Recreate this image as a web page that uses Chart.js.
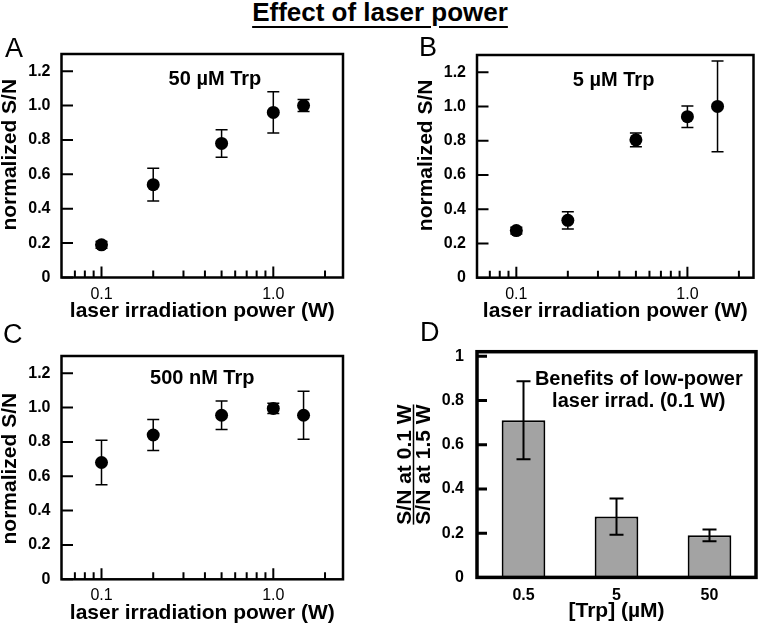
<!DOCTYPE html>
<html>
<head>
<meta charset="utf-8">
<script src="https://cdn.jsdelivr.net/npm/chart.js@4.4.0/dist/chart.umd.min.js"></script>
<style>
  body { margin: 0; background: #fff; }
  #wrap { position: relative; width: 760px; height: 626px; overflow: hidden;
          font-family: "Liberation Sans", Arial, sans-serif; color: #000; }
  canvas { position: absolute; }
  .title { position: absolute; left: 0; top: -1.5px; width: 760px; text-align: center;
           font-weight: bold; font-size: 26px; line-height: 26px;
           text-decoration: underline; text-decoration-thickness: 2px; text-underline-offset: 5px; }
  .tag { position: absolute; font-size: 27px; line-height: 27px; }
</style>
</head>
<body>
<div id="wrap">
  <canvas id="chartA" width="380" height="300" style="left:0;top:30px;width:380px;height:300px"></canvas>
  <canvas id="chartB" width="380" height="300" style="left:380px;top:30px;width:380px;height:300px"></canvas>
  <canvas id="chartC" width="380" height="306" style="left:0;top:320px;width:380px;height:306px"></canvas>
  <canvas id="chartD" width="380" height="306" style="left:380px;top:320px;width:380px;height:306px"></canvas>
  <div class="title">Effect of laser power</div>
  <div class="tag" style="left:5px;top:35px">A</div>
  <div class="tag" style="left:419px;top:34px">B</div>
  <div class="tag" style="left:3px;top:320.5px">C</div>
  <div class="tag" style="left:420px;top:318.5px">D</div>
</div>
<script>
// data
const powers = [0.1, 0.2, 0.5, 1.0, 1.5];
const snA = [0.19, 0.54, 0.78, 0.96, 1.00];
const errA = [0.02, 0.095, 0.08, 0.12, 0.035];
const snB = [0.275, 0.335, 0.805, 0.94, 1.00];
const errB = [0.02, 0.05, 0.04, 0.063, 0.265];
const snC = [0.68, 0.84, 0.955, 0.995, 0.955];
const errC = [0.13, 0.09, 0.083, 0.03, 0.14];
const trpLabels = ['0.5', '5', '50'];
const ratioD = [0.71, 0.275, 0.19];
const errD = [0.176, 0.082, 0.027];

// ticks
const snTicks = [0, 0.2, 0.4, 0.6, 0.8, 1.0, 1.2];
const ratioTicks = [0, 0.2, 0.4, 0.6, 0.8, 1];
const powerTicks = [0.07, 0.08, 0.09, 0.1, 0.2, 0.3, 0.4, 0.5, 0.6, 0.7, 0.8, 0.9, 1, 2];
const majorPowers = [0.1, 1];

const FONT = '"Liberation Sans", Arial, sans-serif';
Chart.defaults.font.family = FONT;
Chart.defaults.color = '#000';

function fixBox(s, dim, size) {
  s[dim] = size;
  s.paddingTop = 0; s.paddingBottom = 0; s.paddingLeft = 0; s.paddingRight = 0;
}

// error bars, inward ticks, frame, y titles and in-plot notes
const framePlugin = {
  id: 'frame',
  afterDatasetsDraw(chart, args, o) {
    const { ctx, chartArea: a } = chart;
    const x = chart.scales.x, y = chart.scales.y;
    ctx.save();
    ctx.strokeStyle = '#000';
    ctx.fillStyle = '#000';

    ctx.lineWidth = o.errWidth;
    chart.data.datasets.forEach((ds, di) => {
      chart.getDatasetMeta(di).data.forEach((el, i) => {
        const d = ds.data[i];
        const v = typeof d === 'object' ? d.y : d;
        const hi = y.getPixelForValue(v + ds.err[i]);
        const lo = y.getPixelForValue(v - ds.err[i]);
        ctx.beginPath();
        ctx.moveTo(el.x, hi); ctx.lineTo(el.x, lo);
        ctx.moveTo(el.x - o.cap, hi); ctx.lineTo(el.x + o.cap, hi);
        ctx.moveTo(el.x - o.cap, lo); ctx.lineTo(el.x + o.cap, lo);
        ctx.stroke();
      });
    });

    ctx.lineWidth = o.tickWidth;
    ctx.beginPath();
    y.ticks.forEach(t => {
      const p = y.getPixelForValue(t.value);
      ctx.moveTo(a.left, p); ctx.lineTo(a.left + o.yTick, p);
    });
    if (o.xTick) {
      x.ticks.forEach(t => {
        const p = x.getPixelForValue(t.value);
        const len = majorPowers.includes(t.value) ? o.xTick[1] : o.xTick[0];
        ctx.moveTo(p, a.bottom); ctx.lineTo(p, a.bottom - len);
      });
    }
    ctx.stroke();

    ctx.lineWidth = o.boxWidth;
    ctx.strokeRect(a.left, a.top, a.width, a.height);

    ctx.font = 'bold 20px ' + FONT;
    ctx.textAlign = 'center';
    ctx.textBaseline = 'alphabetic';
    o.note.forEach((line, i) => ctx.fillText(line, a.left + a.width * o.noteX, a.top + o.noteY[i]));

    const cy = (a.top + a.bottom) / 2;
    if (o.yTitle) {
      ctx.save();
      ctx.translate(o.yTitle.x, cy + o.yTitle.dy);
      ctx.rotate(-Math.PI / 2);
      ctx.font = 'bold 21px ' + FONT;
      ctx.textBaseline = 'middle';
      ctx.fillText(o.yTitle.text, 0, 0);
      ctx.restore();
    }

    if (o.fraction) {
      const f = o.fraction;
      ctx.translate(0, cy);
      ctx.rotate(-Math.PI / 2);
      ctx.font = 'bold 21px ' + FONT;
      ctx.fillText(f.top, 0, f.topBase);
      ctx.fillText(f.bottom, 0, f.bottomBase);
      const w = Math.max(ctx.measureText(f.top).width, ctx.measureText(f.bottom).width);
      ctx.lineWidth = 1.5;
      ctx.beginPath();
      ctx.moveTo(-w / 2, f.rule); ctx.lineTo(w / 2, f.rule);
      ctx.stroke();
    }
    ctx.restore();
  }
};

function powerChart(id, values, errs, note, box) {
  return new Chart(document.getElementById(id), {
    type: 'scatter',
    data: {
      datasets: [{
        data: powers.map((p, i) => ({ x: p, y: values[i] })),
        err: errs,
        pointRadius: 6.5,
        pointHoverRadius: 6.5,
        backgroundColor: '#000',
        borderWidth: 0
      }]
    },
    options: {
      responsive: false,
      animation: false,
      events: [],
      layout: { padding: { left: 0, top: box.top, right: box.right, bottom: 0 } },
      plugins: {
        legend: { display: false },
        tooltip: { enabled: false },
        frame: {
          errWidth: 1.5, cap: 6, tickWidth: 2, yTick: 11.5, xTick: [7, 11], boxWidth: 2.5,
          note: [note], noteX: box.noteX, noteY: [box.noteY],
          yTitle: { text: 'normalized S/N', x: box.ytX, dy: box.ytDy }
        }
      },
      scales: {
        x: {
          type: 'logarithmic',
          min: box.xmin,
          max: box.xmax,
          afterBuildTicks: s => { s.ticks = powerTicks.map(v => ({ value: v })); },
          afterFit: s => fixBox(s, 'height', box.xh),
          grid: { display: false, drawTicks: false },
          border: { display: false },
          ticks: {
            autoSkip: false, maxRotation: 0, padding: 7,
            font: { size: 16 },
            callback: v => majorPowers.includes(v) ? v.toFixed(1) : ''
          },
          title: {
            display: true, text: 'laser irradiation power (W)',
            font: { size: 21, weight: 'bold', lineHeight: 1 },
            padding: { top: 0, bottom: box.xtPad }
          }
        },
        y: {
          min: 0,
          max: 1.3,
          afterBuildTicks: s => { s.ticks = snTicks.map(v => ({ value: v })); },
          afterFit: s => fixBox(s, 'width', box.yw),
          grid: { display: false, drawTicks: false },
          border: { display: false },
          ticks: {
            padding: 11,
            font: { size: 16, weight: 'bold' },
            callback: v => v === 0 ? '0' : v.toFixed(1)
          },
          title: { display: false }
        }
      }
    },
    plugins: [framePlugin]
  });
}

powerChart('chartA', snA, errA, '50 µM Trp',
  { top: 24, right: 37, yw: 61.5, xh: 52.5, xmin: 0.0585, xmax: 2.545, xtPad: 8.3,
    ytX: 10, ytDy: -11, noteX: 0.545, noteY: 31 });
powerChart('chartB', snB, errB, '5 µM Trp',
  { top: 25, right: 4, yw: 97, xh: 52.3, xmin: 0.0589, xmax: 2.434, xtPad: 8.3,
    ytX: 46, ytDy: -11, noteX: 0.494, noteY: 31 });
powerChart('chartC', snC, errC, '500 nM Trp',
  { top: 36, right: 37, yw: 61.5, xh: 46.7, xmin: 0.0585, xmax: 2.545, xtPad: 2.5,
    ytX: 10, ytDy: 1, noteX: 0.5, noteY: 28 });

new Chart(document.getElementById('chartD'), {
  type: 'bar',
  data: {
    labels: trpLabels,
    datasets: [{
      data: ratioD,
      err: errD,
      backgroundColor: '#a3a3a3',
      borderColor: '#000',
      borderWidth: 2,
      barPercentage: 0.47,
      categoryPercentage: 1
    }]
  },
  options: {
    responsive: false,
    animation: false,
    events: [],
    layout: { padding: { left: 0, top: 31.7, right: 4, bottom: 0 } },
    plugins: {
      legend: { display: false },
      tooltip: { enabled: false },
      frame: {
        errWidth: 2, cap: 7, tickWidth: 3, yTick: 10, xTick: null, boxWidth: 3.5,
        note: ['Benefits of low-power', 'laser irrad. (0.1 W)'], noteX: 0.58, noteY: [33.3, 55],
        fraction: { top: 'S/N at 0.1 W', bottom: 'S/N at 1.5 W', topBase: 31, rule: 33.5, bottomBase: 49.5 }
      }
    },
    scales: {
      x: {
        afterFit: s => fixBox(s, 'height', 48.6),
        grid: { display: false, drawTicks: false },
        border: { display: false },
        ticks: { padding: 9, font: { size: 16, weight: 'bold' } },
        title: {
          display: true, text: '[Trp] (µM)',
          font: { size: 21, weight: 'bold', lineHeight: 1 },
          padding: { top: 0, bottom: 4.5 }
        }
      },
      y: {
        min: 0,
        max: 1.02,
        afterBuildTicks: s => { s.ticks = ratioTicks.map(v => ({ value: v })); },
        afterFit: s => fixBox(s, 'width', 97),
        grid: { display: false, drawTicks: false },
        border: { display: false },
        ticks: { padding: 13, font: { size: 16, weight: 'bold' }, callback: v => String(v) }
      }
    }
  },
  plugins: [framePlugin]
});
</script>
</body>
</html>
